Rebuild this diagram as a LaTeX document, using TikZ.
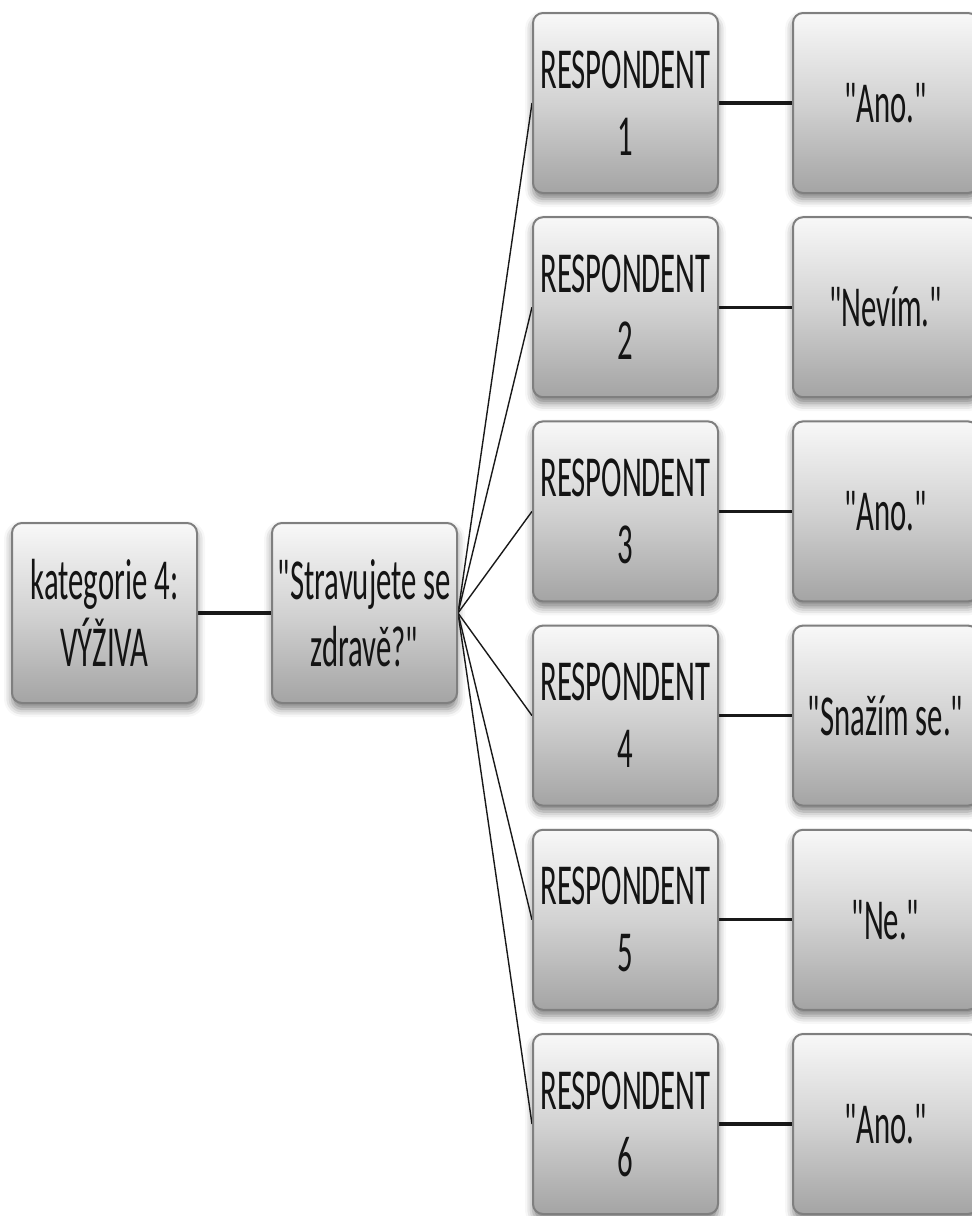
\documentclass[tikz,border=0pt]{standalone}
\usepackage{fontspec}
\setmainfont{Carlito}[FakeStretch=0.53, Ligatures=TeXOff]
\usetikzlibrary{shadows.blur,backgrounds}

\definecolor{boxline}{HTML}{7F7F7F}
\definecolor{boxtop}{HTML}{F8F8F8}
\definecolor{boxbottom}{HTML}{A4A4A4}
\definecolor{ink}{HTML}{141414}

\tikzset{
  card/.style={
    draw=boxline, line width=1pt, rounded corners=5pt,
    top color=boxtop, bottom color=boxbottom, middle color=boxtop!55!boxbottom,
    minimum width=92.5pt, minimum height=90pt, inner sep=0pt,
    align=center, text=ink,
    font=\fontsize{29pt}{33.5pt}\selectfont,
    blur shadow={shadow xshift=0pt, shadow yshift=-3pt,
                 shadow blur radius=4pt, shadow opacity=50}
  },
  thickline/.style={line width=1.6pt, draw=black!90},
  thinline/.style={line width=0.7pt, draw=black!90}
}

\begin{document}
\begin{tikzpicture}[x=0.5pt, y=-0.5pt]
  \useasboundingbox (0,0) rectangle (972,1216);
  \clip (0,0) rectangle (972,1216);

  % category and question
  \node[card] (cat) at (104.5,613) {kategorie 4:\\VÝŽIVA};
  \node[card] (q)   at (364.5,613) {"Stravujete se\\zdravě?"};

  % respondents
  \node[card] (r1) at (625.5,103.0)  {RESPONDENT\\1};
  \node[card] (r2) at (625.5,307.2)  {RESPONDENT\\2};
  \node[card] (r3) at (625.5,511.4)  {RESPONDENT\\3};
  \node[card] (r4) at (625.5,715.6)  {RESPONDENT\\4};
  \node[card] (r5) at (625.5,919.8)  {RESPONDENT\\5};
  \node[card] (r6) at (625.5,1124.0) {RESPONDENT\\6};

  % answers
  \node[card] (a1) at (885.5,103.0)  {"Ano."};
  \node[card] (a2) at (885.5,307.2)  {"Nevím."};
  \node[card] (a3) at (885.5,511.4)  {"Ano."};
  \node[card] (a4) at (885.5,715.6)  {"Snažím se."};
  \node[card] (a5) at (885.5,919.8)  {"Ne."};
  \node[card] (a6) at (885.5,1124.0) {"Ano."};

  \begin{scope}[on background layer]
    \draw[thickline] (cat.east) -- (q.west);
    \foreach \i in {1,...,6} {
      \draw[thinline] (q.east) -- (r\i.west);
      \draw[thickline] (r\i.east) -- (a\i.west);
    }
  \end{scope}
\end{tikzpicture}
\end{document}
